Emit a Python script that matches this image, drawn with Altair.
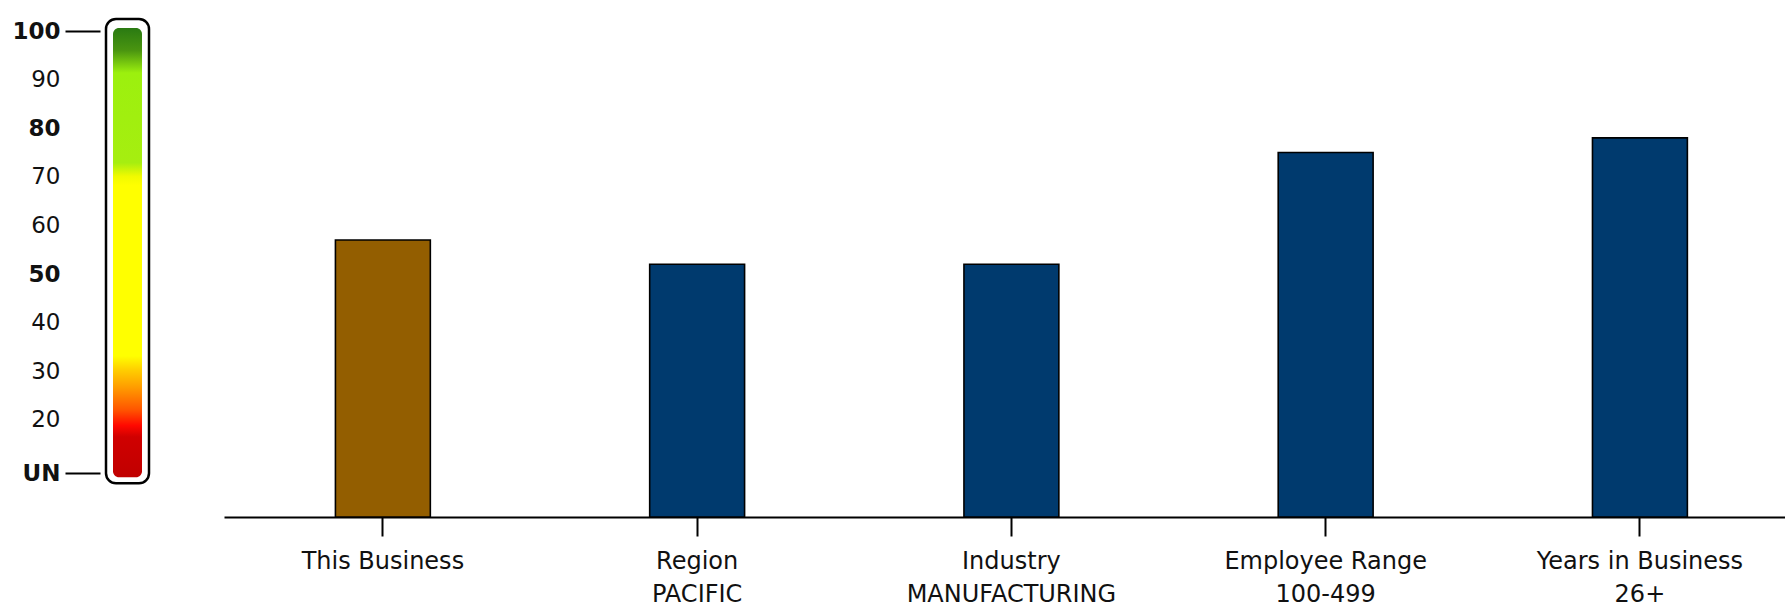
import altair as alt
import pandas as pd

# ---- data ----
categories = ["This Business", "Region|PACIFIC", "Industry|MANUFACTURING",
              "Employee Range|100-499", "Years in Business|26+"]
scores = [57, 52, 52, 75, 78]
bar_colors = ["#935e00", "#003a6e", "#003a6e", "#003a6e", "#003a6e"]

scale_ticks = [100, 90, 80, 70, 60, 50, 40, 30, 20, 9]   # 9 -> "UN"
bold_ticks = [100, 80, 50, 9]
gauge_top = [100]
gauge_bottom = [9]

bars_df = pd.DataFrame({"cat": categories, "score": scores, "color": bar_colors})
gauge_df = pd.DataFrame({"top": gauge_top, "bottom": gauge_bottom})

FONT = "DejaVu Sans"

yscale = alt.Scale(domain=[0, 100], nice=False, zero=True)

bold_test = " || ".join(f"datum.value == {v}" for v in bold_ticks)

bars = alt.Chart(bars_df).mark_bar(stroke="black", strokeWidth=1.6).encode(
    x=alt.X("cat:N", sort=None, title=None,
            scale=alt.Scale(range=[224, 1785], paddingInner=0.698,
                            paddingOuter=0.3326, align=0.533),
            axis=alt.Axis(labelAngle=0, domainColor="black", domainWidth=2,
                          tickColor="black", tickWidth=2, tickSize=19,
                          labelFont=FONT, labelFontSize=24, labelColor="#111",
                          labelPadding=13, labelLineHeight=33, labelLimit=0,
                          labelExpr="split(datum.label, '|')")),
    y=alt.Y("score:Q", scale=yscale, title=None,
            axis=alt.Axis(values=scale_ticks, offset=-100, domain=False,
                          grid=False, tickSize=35, tickWidth=2,
                          tickColor={"condition": {"test": "datum.value == 100 || datum.value == 9",
                                                   "value": "black"},
                                     "value": "transparent"},
                          labelPadding=5, labelFont=FONT, labelFontSize=23,
                          labelColor="#111",
                          labelFontWeight={"condition": {"test": bold_test, "value": "bold"},
                                           "value": "normal"},
                          labelExpr="datum.value == 9 ? 'UN' : datum.label")),
    color=alt.Color("color:N", scale=None),
)

gauge_outer = alt.Chart(gauge_df).mark_rect(
    fill="white", stroke="black", strokeWidth=2.5, cornerRadius=10,
    yOffset=-12, y2Offset=10,
).encode(
    x=alt.value(106), x2=alt.value(149),
    y=alt.Y("top:Q", scale=yscale), y2="bottom:Q",
)

gradient = alt.Gradient(
    gradient="linear", x1=0, x2=0, y1=0, y2=1,
    stops=[
        alt.GradientStop(color="#2a7a12", offset=0.0),
        alt.GradientStop(color="#4a9510", offset=0.05),
        alt.GradientStop(color="#9cf00e", offset=0.10),
        alt.GradientStop(color="#a6ee10", offset=0.30),
        alt.GradientStop(color="#f0fa00", offset=0.33),
        alt.GradientStop(color="#ffff00", offset=0.35),
        alt.GradientStop(color="#ffff00", offset=0.73),
        alt.GradientStop(color="#ffd000", offset=0.76),
        alt.GradientStop(color="#ff9c00", offset=0.80),
        alt.GradientStop(color="#ff5500", offset=0.85),
        alt.GradientStop(color="#ff0800", offset=0.885),
        alt.GradientStop(color="#d00000", offset=0.91),
        alt.GradientStop(color="#c00000", offset=1.0),
    ],
)

gauge_inner = alt.Chart(gauge_df).mark_rect(
    color=gradient, cornerRadius=6, yOffset=-3, y2Offset=4,
).encode(
    x=alt.value(113), x2=alt.value(142),
    y=alt.Y("top:Q", scale=yscale), y2="bottom:Q",
)

chart = alt.layer(bars, gauge_outer, gauge_inner).properties(
    width=1785, height=486,
    background="white",
    autosize=alt.AutoSizeParams(type="none"),
    padding={"left": 0, "top": 31, "right": 0, "bottom": 93},
).configure_view(strokeWidth=0, stroke="transparent")

chart.save("out.html", embed_options={"renderer": "svg", "actions": False})
